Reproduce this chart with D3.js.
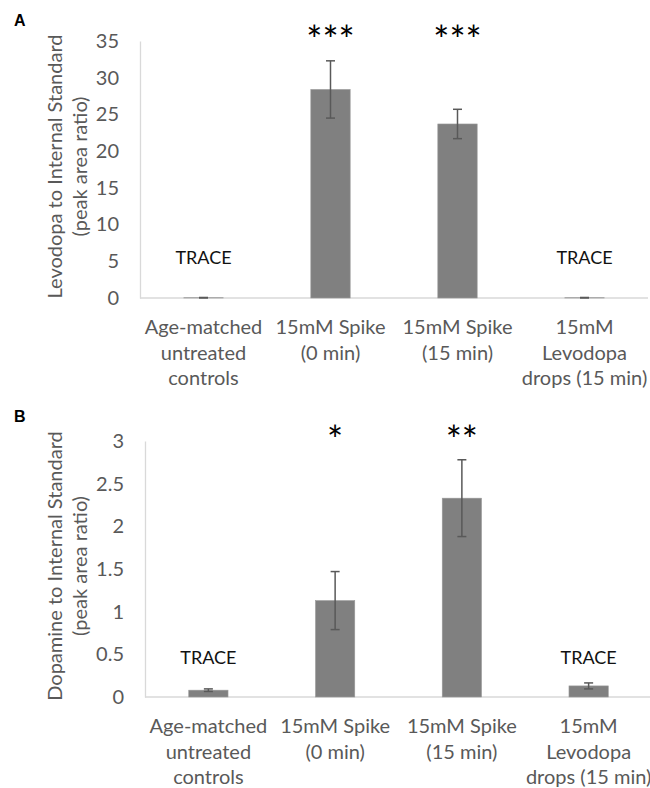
<!DOCTYPE html>
<html>
<head>
<meta charset="utf-8">
<script src="https://cdn.jsdelivr.net/npm/d3@7"></script>
<style>
  body { margin: 0; background: #fff; }
  text { font-family: Lato, "Open Sans", sans-serif; }
</style>
</head>
<body>
<script>
// Data
const categories = [
    ["Age-matched", "untreated", "controls"],
    ["15mM Spike", "(0 min)"],
    ["15mM Spike", "(15 min)"],
    ["15mM", "Levodopa", "drops (15 min)"]
];
const traceLabels = ["TRACE", "", "", "TRACE"];

const levodopaMeans = [0.04, 28.4, 23.7, 0.04];
const levodopaErrors = [0.03, 3.9, 2.0, 0.03];
const levodopaStars = ["", "***", "***", ""];
const levodopaTicks = [0, 5, 10, 15, 20, 25, 30, 35];

const dopamineMeans = [0.08, 1.13, 2.33, 0.13];
const dopamineErrors = [0.015, 0.34, 0.45, 0.035];
const dopamineStars = ["", "*", "**", ""];
const dopamineTicks = [0, 0.5, 1, 1.5, 2, 2.5, 3];

let width = 650,
    height = 788;

let svg = d3.select('body')
    .append('svg')
    .attr('width', width)
    .attr('height', height);

// Draw one panel of the figure
function drawPanel(p) {
    let g = svg.append('g');

    let rows = p.means.map((m, i) => ({
        cat: i,
        mean: m,
        err: p.errors[i],
        star: p.stars[i],
        trace: traceLabels[i]
    }));

    let xScale = d3.scaleBand()
        .domain(rows.map(d => d.cat))
        .range([p.left, p.right])
        .paddingInner(0.69)
        .paddingOuter(0.345);

    let yScale = d3.scaleLinear()
        .domain([0, d3.max(p.ticks)])
        .range([p.bottom, p.top]);

    // y axis: labels only, light vertical line
    let yAxis = g.append('g')
        .attr('transform', `translate(${p.left},0)`)
        .call(d3.axisLeft(yScale).tickValues(p.ticks).tickSize(0).tickPadding(21).tickFormat(d => String(d)));
    yAxis.select('.domain').attr('stroke', '#d9d9d9').attr('stroke-width', 1.3);
    yAxis.selectAll('text')
        .style('font-size', '20px')
        .attr('fill', '#595959');

    // baseline
    g.append('line')
        .attr('x1', p.left)
        .attr('x2', p.right)
        .attr('y1', yScale(0))
        .attr('y2', yScale(0))
        .attr('stroke', '#d9d9d9')
        .attr('stroke-width', 1.3);

    // bars
    g.selectAll('rect.bar')
        .data(rows)
        .enter().append('rect')
        .attr('class', 'bar')
        .attr('x', d => xScale(d.cat))
        .attr('y', d => yScale(d.mean))
        .attr('width', xScale.bandwidth())
        .attr('height', d => yScale(0) - yScale(d.mean))
        .attr('fill', '#808080')
        .attr('stroke', '#9a9a9a')
        .attr('stroke-width', 0.6);

    // error bars
    let cx = d => xScale(d.cat) + xScale.bandwidth() / 2;
    let eb = g.selectAll('g.err')
        .data(rows)
        .enter().append('g')
        .attr('class', 'err')
        .attr('stroke', '#595959')
        .attr('stroke-width', 1.5);
    eb.append('line')
        .attr('x1', cx).attr('x2', cx)
        .attr('y1', d => yScale(d.mean + d.err))
        .attr('y2', d => yScale(Math.max(0, d.mean - d.err)));
    eb.append('line')
        .attr('x1', d => cx(d) - 4.5).attr('x2', d => cx(d) + 4.5)
        .attr('y1', d => yScale(d.mean + d.err))
        .attr('y2', d => yScale(d.mean + d.err));
    eb.append('line')
        .attr('x1', d => cx(d) - 4.5).attr('x2', d => cx(d) + 4.5)
        .attr('y1', d => yScale(Math.max(0, d.mean - d.err)))
        .attr('y2', d => yScale(Math.max(0, d.mean - d.err)));

    // significance stars
    g.selectAll('text.star')
        .data(rows)
        .enter().append('text')
        .attr('class', 'star')
        .attr('x', cx)
        .attr('y', p.top + p.starOffset)
        .attr('text-anchor', 'middle')
        .style('font-size', '38px')
        .style('letter-spacing', '0px')
        .attr('fill', '#000')
        .text(d => d.star);

    // TRACE notes
    g.selectAll('text.trace')
        .data(rows)
        .enter().append('text')
        .attr('class', 'trace')
        .attr('x', cx)
        .attr('y', yScale(p.traceAt))
        .attr('text-anchor', 'middle')
        .style('font-size', '18px')
        .attr('fill', '#111')
        .text(d => d.trace);

    // category labels
    let labels = g.selectAll('text.cat')
        .data(rows)
        .enter().append('text')
        .attr('class', 'cat')
        .attr('text-anchor', 'middle')
        .attr('fill', '#595959')
        .style('font-size', '20px');
    labels.selectAll('tspan')
        .data(d => categories[d.cat].map(t => ({ t: t, x: cx(d) })))
        .enter().append('tspan')
        .attr('x', d => d.x)
        .attr('y', (d, i) => yScale(0) + 36 + i * 25.5)
        .text(d => d.t);

    // y axis title
    let midY = (p.top + p.bottom) / 2 - 3;
    p.title.forEach((t, i) => {
        g.append('text')
            .attr('transform', `translate(${62 + i * 25},${midY}) rotate(-90)`)
            .attr('text-anchor', 'middle')
            .attr('fill', '#595959')
            .style('font-size', '20px')
            .text(t);
    });

    // panel letter
    g.append('text')
        .attr('x', 14)
        .attr('y', p.letterY)
        .style('font-family', 'Arial, "Liberation Sans", sans-serif')
        .style('font-weight', 'bold')
        .style('font-size', '16px')
        .text(p.letter);
}

drawPanel({
    letter: 'A', letterY: 26,
    means: levodopaMeans, errors: levodopaErrors, stars: levodopaStars, ticks: levodopaTicks,
    title: ['Levodopa to Internal Standard', '(peak area ratio)'],
    left: 140, right: 648, top: 41, bottom: 298,
    starOffset: 13, traceAt: 4.6
});

drawPanel({
    letter: 'B', letterY: 422,
    means: dopamineMeans, errors: dopamineErrors, stars: dopamineStars, ticks: dopamineTicks,
    title: ['Dopamine to Internal Standard', '(peak area ratio)'],
    left: 145, right: 652, top: 441, bottom: 697,
    starOffset: 13, traceAt: 0.39
});
</script>
</body>
</html>
